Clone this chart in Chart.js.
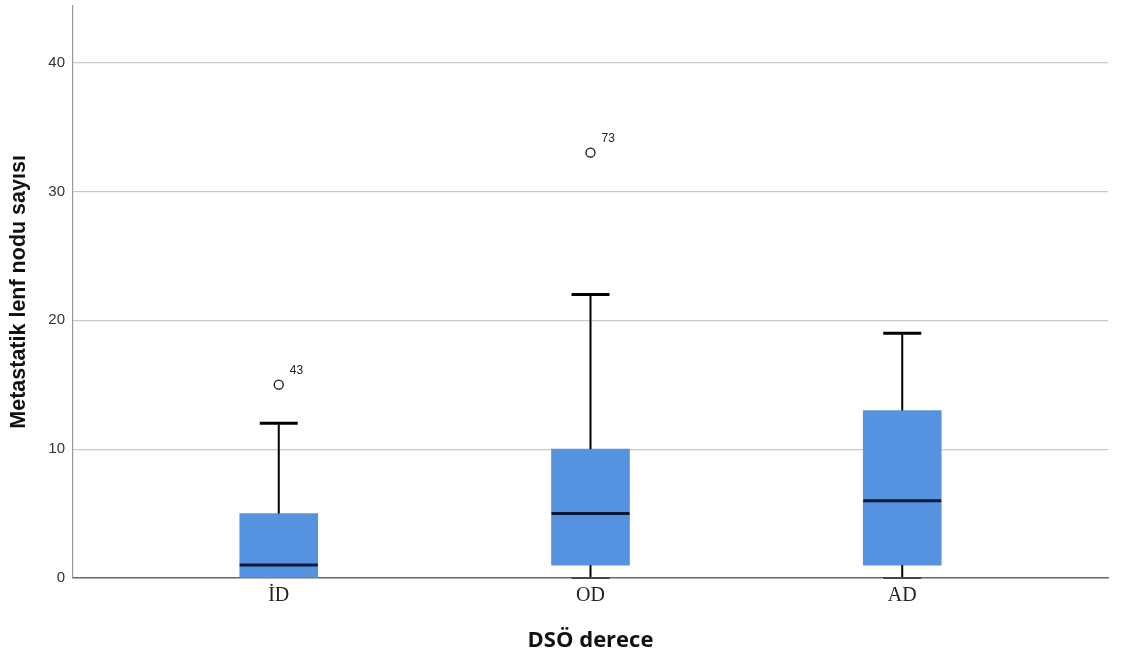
<!DOCTYPE html>
<html>
<head>
<meta charset="utf-8">
<script src="https://cdn.jsdelivr.net/npm/chart.js@4.4.1/dist/chart.umd.min.js"></script>
<style>
  html, body { margin: 0; padding: 0; background: #ffffff; }
  #wrap { width: 1123px; height: 662px; }
</style>
</head>
<body>
<div id="wrap"><canvas id="chart" width="1123" height="662"></canvas></div>
<script>
// Grade groups and their five-number summaries
const categories = ['İD', 'OD', 'AD'];
const whiskerLow = [0, 0, 0];
const q1 = [0, 1, 1];
const median = [1, 5, 6];
const q3 = [5, 10, 13];
const whiskerHigh = [12, 22, 19];

// Outlying cases: group index, value, case number
const outlierGroup = [0, 1];
const outlierValue = [15, 33];
const outlierCase = ['43', '73'];

const yTicks = [0, 10, 20, 30, 40];

const boxColor = '#5593e0';

// Whiskers, caps and medians drawn on the chart's own scales
const boxParts = {
  id: 'boxParts',
  afterDatasetsDraw(chart) {
    const { ctx, scales: { x, y } } = chart;
    const boxHalf = 39, capHalf = 19;
    ctx.save();
    ctx.lineCap = 'butt';
    categories.forEach((c, i) => {
      const cx = x.getPixelForValue(i);
      // upper whisker
      if (whiskerHigh[i] > q3[i]) {
        ctx.strokeStyle = '#000';
        ctx.lineWidth = 2;
        ctx.beginPath();
        ctx.moveTo(cx, y.getPixelForValue(q3[i]));
        ctx.lineTo(cx, y.getPixelForValue(whiskerHigh[i]));
        ctx.stroke();
        ctx.lineWidth = 3;
        ctx.beginPath();
        ctx.moveTo(cx - capHalf, y.getPixelForValue(whiskerHigh[i]));
        ctx.lineTo(cx + capHalf, y.getPixelForValue(whiskerHigh[i]));
        ctx.stroke();
      }
      // lower whisker
      if (whiskerLow[i] < q1[i]) {
        ctx.strokeStyle = '#000';
        ctx.lineWidth = 2;
        ctx.beginPath();
        ctx.moveTo(cx, y.getPixelForValue(q1[i]));
        ctx.lineTo(cx, y.getPixelForValue(whiskerLow[i]));
        ctx.stroke();
        ctx.lineWidth = 2;
        ctx.strokeStyle = '#444';
        ctx.beginPath();
        ctx.moveTo(cx - capHalf, y.getPixelForValue(whiskerLow[i]));
        ctx.lineTo(cx + capHalf, y.getPixelForValue(whiskerLow[i]));
        ctx.stroke();
      }
      // median
      ctx.strokeStyle = '#0d1838';
      ctx.lineWidth = 3;
      ctx.beginPath();
      ctx.moveTo(cx - boxHalf, y.getPixelForValue(median[i]));
      ctx.lineTo(cx + boxHalf, y.getPixelForValue(median[i]));
      ctx.stroke();
    });
    // case numbers beside outliers
    ctx.fillStyle = '#222';
    ctx.font = '12px "Liberation Sans", Arial, sans-serif';
    ctx.textAlign = 'left';
    ctx.textBaseline = 'middle';
    outlierValue.forEach((v, k) => {
      const px = x.getPixelForValue(outlierGroup[k]);
      const py = y.getPixelForValue(v);
      ctx.fillText(outlierCase[k], px + 11, py - 14);
    });
    ctx.restore();
  }
};

new Chart(document.getElementById('chart'), {
  data: {
    datasets: [
      {
        type: 'bar',
        data: categories.map((c, i) => ({ x: i, y: [q1[i], q3[i]] })),
        backgroundColor: boxColor,
        borderWidth: 0,
        barThickness: 78,
        order: 2
      },
      {
        type: 'scatter',
        data: outlierValue.map((v, k) => ({ x: outlierGroup[k], y: v })),
        pointStyle: 'circle',
        pointRadius: 4.5,
        pointBorderWidth: 1.3,
        pointBorderColor: '#111',
        pointBackgroundColor: '#ffffff',
        order: 1
      }
    ]
  },
  options: {
    responsive: false,
    animation: false,
    events: [],
    layout: { padding: { left: 0, right: 15, top: 5, bottom: 0 } },
    plugins: { legend: { display: false }, tooltip: { enabled: false } },
    scales: {
      x: {
        type: 'linear',
        offset: false,
        min: -0.66,
        max: 2.66,
        afterBuildTicks(scale) { scale.ticks = categories.map((c, i) => ({ value: i })); },
        afterFit(scale) { scale.height = 84; },
        ticks: {
          callback: (v) => categories[v] ?? '',
          font: { family: '"Liberation Serif", "Times New Roman", serif', size: 20 },
          color: '#222',
          padding: 6,
          autoSkip: false,
          maxRotation: 0
        },
        grid: { display: false, drawTicks: false, offset: false },
        border: { display: true, color: '#666', width: 1.5 },
        title: {
          display: true,
          text: 'DSÖ derece',
          font: { family: '"Open Sans", "Noto Sans", sans-serif', size: 22, weight: 'bold' },
          color: '#111',
          padding: { top: 0, bottom: 8 }
        }
      },
      y: {
        type: 'linear',
        min: 0,
        max: 44.4,
        afterBuildTicks(scale) { scale.ticks = yTicks.map(v => ({ value: v })); },
        afterFit(scale) { scale.width = 73; },
        ticks: {
          font: { family: '"Liberation Sans", Arial, sans-serif', size: 15, lineHeight: 0.5 },
          color: '#333',
          padding: 0
        },
        grid: {
          color: (ctx) => (ctx.tick && ctx.tick.value === 0) ? 'rgba(0,0,0,0)' : '#c9c9c9',
          tickColor: 'rgba(0,0,0,0)',
          tickLength: 8,
          lineWidth: 1.2
        },
        border: { display: true, color: '#999', width: 1.2 },
        title: {
          display: true,
          text: 'Metastatik lenf nodu sayısı',
          font: { family: '"Liberation Sans", Arial, sans-serif', size: 21.5, weight: 'bold' },
          color: '#111',
          padding: { top: 6, bottom: 0 }
        }
      }
    }
  },
  plugins: [boxParts]
});
</script>
</body>
</html>
